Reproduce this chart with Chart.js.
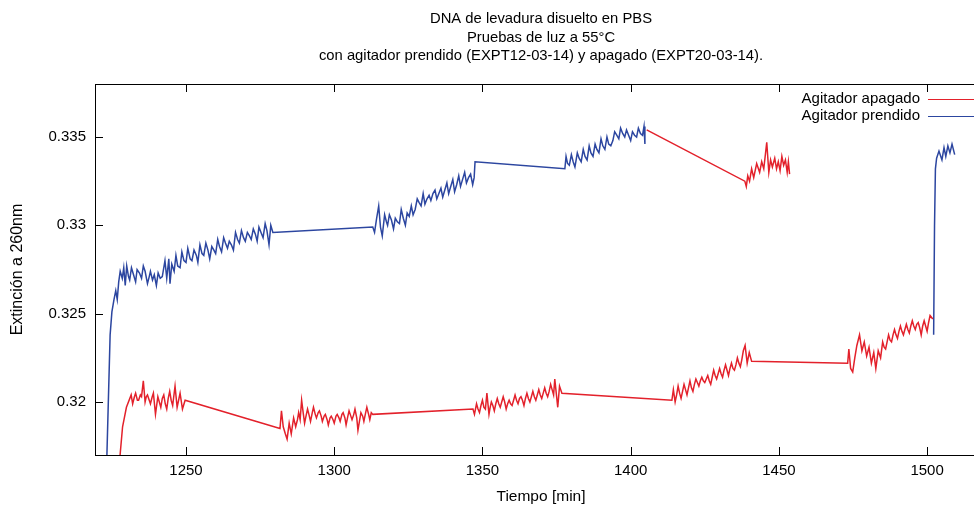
<!DOCTYPE html>
<html>
<head>
<meta charset="utf-8">
<script src="https://cdn.jsdelivr.net/npm/chart.js@4.4.1/dist/chart.umd.min.js"></script>
<style>
  html, body { margin: 0; padding: 0; background: #fff; overflow: hidden; width: 974px; height: 506px; }
</style>
</head>
<body>
<canvas id="chart" width="1000" height="506"></canvas>
<script>
// titles and labels
const titleLines = [
  "DNA de levadura disuelto en PBS",
  "Pruebas de luz a 55°C",
  "con agitador prendido (EXPT12-03-14) y apagado (EXPT20-03-14)."
];
const xTitle = "Tiempo [min]";
const yTitle = "Extinción a 260nm";
const seriesNames = ["Agitador apagado", "Agitador prendido"];

// axis ranges / ticks
const xRange = [1219.3, 1520.2];
const yRange = [0.317, 0.338];
const xTicks = [1250, 1300, 1350, 1400, 1450, 1500];
const yTicks = [0.32, 0.325, 0.33, 0.335];

// Agitador prendido (blue), [tiempo, extincion]
const bluePrendido = [
  [1223.0,0.3150],[1224.4,0.3238],[1225.0,0.3251],[1225.7,0.3258],[1226.3,0.3263],[1226.8,0.3258],
  [1227.3,0.3268],[1227.8,0.3274],[1228.5,0.3270],[1229,0.3276],[1229.5,0.3266],[1230,0.3277],
  [1230.6,0.3271],[1231,0.3269],[1231.6,0.3276],[1232.3,0.3272],[1233,0.3268],[1233.5,0.3275],[1234.3,0.3273],
  [1235,0.3270],[1235.6,0.3277],[1236.2,0.3274],[1237,0.3267],[1237.6,0.3271],[1238,0.3274],[1238.7,0.3269],
  [1239.3,0.3272],[1240,0.3266],[1240.6,0.3273],[1241.3,0.3270],[1242,0.3271],[1242.9,0.3280],[1243.5,0.3270],
  [1244.2,0.3281],[1244.6,0.3267],[1245.2,0.3278],[1246,0.3274],[1246.6,0.3283],[1247.2,0.3277],[1248,0.3276],
  [1248.6,0.3285],[1249.3,0.3280],[1250,0.3279],[1250.6,0.3287],[1251.4,0.3281],[1252,0.3280],[1252.7,0.3286],
  [1253.5,0.3283],[1254,0.3279],[1254.7,0.3289],[1255.4,0.3284],[1256,0.3283],[1256.7,0.3290],[1257.4,0.3286],
  [1258,0.3281],[1258.7,0.3288],[1259.4,0.3286],[1260,0.3284],[1260.7,0.3292],[1261.3,0.3288],[1262,0.3285],
  [1262.7,0.3293],[1263.3,0.3290],[1264,0.3287],[1264.6,0.3291],[1265.3,0.3289],[1266,0.3286],[1266.7,0.3296],
  [1267.4,0.3292],[1268,0.3290],[1268.7,0.3297],[1269.4,0.3293],[1270,0.3291],[1270.7,0.3296],[1271.4,0.3294],
  [1272,0.3292],[1272.7,0.3298],[1273.4,0.3295],[1274,0.3291],[1274.6,0.3299],[1275.3,0.3296],[1276,0.3293],
  [1276.7,0.3301],[1277.3,0.3297],[1278,0.3289],[1278.6,0.3300],[1279.3,0.3296],
  [1313.0,0.3299],[1313.6,0.3296],[1314.3,0.3304],[1315,0.3311],[1315.6,0.3299],[1316.2,0.3294],
  [1317,0.3306],[1317.6,0.3302],[1318,0.3300],[1318.6,0.3306],[1319.3,0.3303],[1320,0.3298],[1320.6,0.3304],
  [1321.3,0.3302],[1322,0.3301],[1322.6,0.3309],[1323.3,0.3304],[1324,0.3300],[1324.6,0.3307],[1325.3,0.3305],
  [1326,0.3311],[1326.6,0.3306],[1327.3,0.3309],[1328,0.3315],[1328.6,0.3313],[1329.3,0.3311],[1330,0.3318],
  [1330.6,0.3312],[1331.3,0.3315],[1332,0.3317],[1332.6,0.3314],[1333.3,0.3318],[1334,0.3320],[1334.6,0.3315],
  [1335.3,0.3318],[1336,0.3321],[1336.6,0.3316],[1337.3,0.3320],[1338,0.3324],[1338.6,0.3318],[1339.3,0.3322],
  [1340,0.3326],[1340.6,0.3319],[1341.3,0.3323],[1342,0.3328],[1342.6,0.3322],[1343.3,0.3326],[1344,0.3330],
  [1344.6,0.3324],[1345.3,0.3327],[1346,0.3329],[1346.7,0.3323],[1347.2,0.3327],[1347.5,0.3336],
  [1377.8,0.3332],[1378.2,0.3339],[1378.7,0.3335],[1379.3,0.3334],[1380,0.3340],[1380.6,0.3336],[1381.2,0.3333],
  [1382,0.3341],[1382.6,0.3338],[1383.3,0.3336],[1384,0.3343],[1384.6,0.3339],[1385.3,0.3337],[1386,0.3345],
  [1386.6,0.3341],[1387.3,0.3339],[1388,0.3346],[1388.6,0.3343],[1389.3,0.3341],[1390,0.3349],[1390.6,0.3345],
  [1391.3,0.3343],[1392,0.3350],[1392.6,0.3346],[1393.3,0.3345],[1394,0.3348],[1394.6,0.3353],[1395.3,0.3351],
  [1396,0.3349],[1396.6,0.3355],[1397.3,0.3352],[1398,0.3350],[1398.6,0.3354],[1399.3,0.3351],[1400,0.3348],
  [1400.6,0.3353],[1401.3,0.3351],[1402,0.3350],[1402.6,0.3355],[1403.3,0.3352],[1404,0.3351],
  [1404.5,0.3356],[1404.8,0.3346]
];
const bluePrendidoFin = [
  [1502.2,0.3238],[1502.5,0.3300],[1502.8,0.3332],[1503.2,0.3338],[1504,0.3342],[1505,0.3337],
  [1505.7,0.3344],[1506.3,0.3339],[1507,0.3345],[1507.7,0.3341],[1508.4,0.3346],[1509.3,0.3340]
];

// Agitador apagado (red)
const redApagado = [
  [1227.5,0.3165],[1228.6,0.3186],[1229.9,0.3197],[1231.5,0.3204],[1232,0.3199],[1232.6,0.3203],[1233,0.3205],
  [1233.6,0.3201],[1234,0.3201],[1234.6,0.3204],[1235,0.3203],[1235.6,0.3212],[1236.2,0.3200],[1236.6,0.3203],
  [1237,0.3204],[1237.6,0.3201],[1238,0.3199],[1238.6,0.3203],[1239,0.3205],[1239.7,0.3193],[1240.5,0.3203],
  [1241,0.3200],[1241.5,0.3197],[1242,0.3202],[1242.5,0.3204],[1243,0.3199],[1243.5,0.3196],[1244,0.3202],
  [1244.5,0.3206],[1245,0.3201],[1245.5,0.3198],[1246.3,0.3209],[1247,0.3197],[1247.5,0.3201],[1248,0.3205],
  [1248.8,0.3196],[1249.7,0.3201],
  [1281.7,0.3185],[1282.2,0.3195],[1282.8,0.3186],[1283.5,0.3182],[1284.1,0.3179],[1284.8,0.3188],
  [1285.5,0.3182],[1286.3,0.3191],[1287,0.3186],[1287.6,0.3190],[1288,0.3194],[1288.5,0.3190],[1289,0.3201],
  [1289.6,0.3193],[1290,0.3188],[1290.6,0.3193],[1291,0.3196],[1291.6,0.3192],[1292,0.3189],[1292.6,0.3194],
  [1293,0.3197],[1293.6,0.3193],[1294,0.3191],[1294.6,0.3194],[1295,0.3195],[1295.6,0.3192],[1296,0.3189],
  [1296.6,0.3192],[1297,0.3193],[1297.6,0.3190],[1298,0.3187],[1298.6,0.3191],[1299,0.3192],[1299.6,0.3190],
  [1300,0.3188],[1300.6,0.3192],[1301,0.3193],[1301.6,0.3191],[1302,0.3189],[1302.6,0.3193],[1303,0.3194],
  [1303.6,0.3191],[1304,0.3187],[1304.6,0.3192],[1305,0.3195],[1305.6,0.3192],[1306,0.3190],[1306.6,0.3193],
  [1307,0.3196],[1307.6,0.3191],[1308,0.3184],[1308.6,0.3190],[1309,0.3194],[1309.6,0.3192],[1310,0.3189],
  [1310.6,0.3194],[1311,0.3197],[1311.6,0.3193],[1312,0.3190],[1312.5,0.3194],[1313.0,0.3193],
  [1346.8,0.3196],[1347.3,0.3193],[1348,0.3199],[1348.5,0.3196],[1349,0.3194],[1349.5,0.3198],[1350,0.3201],
  [1350.5,0.3197],[1351,0.3196],[1351.5,0.3205],[1352.2,0.3193],[1352.6,0.3197],[1353,0.3200],[1353.5,0.3198],
  [1354,0.3195],[1354.5,0.3199],[1355,0.3202],[1355.5,0.3199],[1356,0.3197],[1356.5,0.3200],[1357,0.3203],
  [1357.5,0.3200],[1358,0.3196],[1358.5,0.3199],[1359,0.3201],[1359.5,0.3199],[1360,0.3198],[1360.5,0.3201],
  [1361,0.3204],[1361.5,0.3201],[1362,0.3199],[1362.5,0.3202],[1363,0.3203],[1363.5,0.3201],[1364,0.3198],
  [1364.5,0.3202],[1365,0.3205],[1365.5,0.3202],[1366,0.3200],[1366.5,0.3203],[1367,0.3206],[1367.5,0.3203],
  [1368,0.3201],[1368.5,0.3204],[1369,0.3207],[1369.5,0.3204],[1370,0.3202],[1370.5,0.3205],[1371,0.3208],
  [1371.5,0.3205],[1372,0.3203],[1372.5,0.3206],[1373,0.3210],[1373.5,0.3207],[1374,0.3204],[1374.4,0.3213],
  [1375.4,0.3197],[1376,0.3209],[1376.8,0.3205],
  [1413.9,0.3201],[1414.4,0.3207],[1415,0.3200],[1415.5,0.3204],[1416,0.3209],[1416.5,0.3205],[1417,0.3202],
  [1417.5,0.3206],[1418,0.3210],[1418.5,0.3207],[1419,0.3204],[1419.5,0.3208],[1420,0.3212],[1420.5,0.3208],
  [1421,0.3206],[1421.5,0.3210],[1422,0.3213],[1422.5,0.3211],[1423,0.3209],[1423.5,0.3212],[1424,0.3214],
  [1424.5,0.3212],[1425,0.3211],[1425.5,0.3213],[1426,0.3215],[1426.5,0.3212],[1427,0.3210],[1427.5,0.3214],
  [1428,0.3218],[1428.5,0.3215],[1429,0.3213],[1429.5,0.3216],[1430,0.3219],[1430.5,0.3216],[1431,0.3214],
  [1431.5,0.3218],[1432,0.3221],[1432.5,0.3218],[1433,0.3215],[1433.5,0.3219],[1434,0.3222],[1434.5,0.3219],
  [1435,0.3218],[1435.5,0.3221],[1436,0.3225],[1436.5,0.3222],[1437,0.3220],[1437.5,0.3224],[1438,0.3229],
  [1438.6,0.3232],[1439.3,0.3222],[1440,0.3228],[1440.8,0.3223],
  [1473.2,0.3222],[1473.6,0.3230],[1474.2,0.3219],[1474.9,0.3217],[1475.6,0.3225],[1476.3,0.3232],
  [1477.2,0.3238],[1478,0.3229],[1478.8,0.3234],[1479.6,0.3226],[1480.4,0.3231],[1481.2,0.3222],
  [1482,0.3228],[1482.7,0.3219],[1483.5,0.3229],[1484.3,0.3225],[1485,0.3234],[1485.5,0.3231],[1486,0.3230],
  [1486.5,0.3234],[1487,0.3238],[1487.5,0.3235],[1488,0.3234],[1488.5,0.3238],[1489,0.3241],[1489.5,0.3238],
  [1490,0.3236],[1490.5,0.3240],[1491,0.3243],[1491.5,0.3240],[1492,0.3238],[1492.5,0.3241],[1493,0.3244],
  [1493.5,0.3241],[1494,0.3239],[1494.5,0.3243],[1495,0.3246],[1495.5,0.3243],[1496,0.3241],[1496.5,0.3244],
  [1497,0.3245],[1497.5,0.3242],[1498,0.3238],[1498.5,0.3243],[1499,0.3246],[1499.5,0.3243],[1500,0.3240],
  [1500.5,0.3245],[1501,0.3249],[1501.9,0.3247]
];
const redApagadoAlto = [
  [1405.4,0.3354],[1438.5,0.3325],[1439.0,0.3322],[1439.5,0.3328],[1440.1,0.3325],[1440.8,0.3332],
  [1441.5,0.3327],[1442.5,0.3335],[1443.5,0.3330],[1444.2,0.3336],[1444.9,0.3332],[1445.9,0.3347],
  [1446.6,0.3330],[1447.2,0.3337],[1447.8,0.3333],[1448.6,0.3338],[1449.2,0.3332],[1449.8,0.3336],
  [1450.4,0.3331],[1451,0.3339],[1451.6,0.3334],[1452.2,0.3337],[1452.8,0.3330],[1453.2,0.3336],
  [1453.6,0.3329]
];

const RED = "#e3212b";
const BLUE = "#2c46a0";
const FONT = "'Liberation Sans', Arial, sans-serif";

const toXY = (arr) => arr.map((p) => ({ x: p[0], y: p[1] }));

function lineSet(data, color) {
  return {
    data: toXY(data),
    borderColor: color,
    borderWidth: 1.5,
    pointRadius: 0,
    fill: false,
    tension: 0,
  };
}

// frame, inward ticks, legend and titles like gnuplot
const gnuplotDecor = {
  id: "gnuplotDecor",
  afterDatasetsDraw(chart) {
    const { ctx, chartArea: a, scales } = chart;
    const xs = scales.x, ys = scales.y;
    ctx.save();
    ctx.strokeStyle = "#000";
    ctx.lineWidth = 1;
    ctx.strokeRect(a.left + 0.5, a.top + 0.5, a.right - a.left, a.bottom - a.top);
    ctx.beginPath();
    xs.ticks.forEach((t) => {
      const px = Math.round(xs.getPixelForValue(t.value)) + 0.5;
      ctx.moveTo(px, a.bottom); ctx.lineTo(px, a.bottom - 8);
      ctx.moveTo(px, a.top); ctx.lineTo(px, a.top + 8);
    });
    ys.ticks.forEach((t) => {
      const py = Math.round(ys.getPixelForValue(t.value)) + 0.5;
      ctx.moveTo(a.left, py); ctx.lineTo(a.left + 8, py);
      ctx.moveTo(a.right, py); ctx.lineTo(a.right - 8, py);
    });
    ctx.stroke();

    // legend
    ctx.font = "15px " + FONT;
    ctx.fillStyle = "#000";
    ctx.textAlign = "right";
    ctx.textBaseline = "middle";
    [[seriesNames[0], RED, 99], [seriesNames[1], BLUE, 116]].forEach(([txt, col, ly]) => {
      ctx.fillText(txt, 920, ly);
      ctx.strokeStyle = col;
      ctx.lineWidth = 1.2;
      ctx.beginPath();
      ctx.moveTo(928, ly + 0.5);
      ctx.lineTo(975, ly + 0.5);
      ctx.stroke();
    });

    // titles
    const cx = (a.left + a.right) / 2;
    ctx.textAlign = "center";
    ctx.font = "14.8px " + FONT;
    titleLines.forEach((txt, i) => ctx.fillText(txt, cx, 19 + i * 18.5));
    ctx.font = "15.5px " + FONT;
    ctx.fillText(xTitle, cx, 497);
    ctx.font = "16px " + FONT;
    ctx.translate(18, (a.top + a.bottom) / 2);
    ctx.rotate(-Math.PI / 2);
    ctx.fillText(yTitle, 0, 0);
    ctx.restore();
  },
};

const setTicks = (list) => (s) => { s.ticks = list.map((v) => ({ value: v })); };

new Chart(document.getElementById("chart"), {
  type: "line",
  data: {
    datasets: [
      lineSet(redApagado, RED),
      lineSet(redApagadoAlto, RED),
      lineSet(bluePrendido, BLUE),
      lineSet(bluePrendidoFin, BLUE),
    ],
  },
  options: {
    responsive: false,
    animation: false,
    devicePixelRatio: 1,
    layout: { padding: { left: 0, right: 13, top: 84, bottom: 0 } },
    plugins: {
      legend: { display: false },
      tooltip: { enabled: false },
    },
    scales: {
      x: {
        type: "linear",
        min: xRange[0],
        max: xRange[1],
        grid: { display: false, drawTicks: false },
        border: { display: false },
        afterBuildTicks: setTicks(xTicks),
        ticks: {
          color: "#000",
          padding: 7,
          maxRotation: 0,
          autoSkip: false,
          font: { family: FONT, size: 15 },
          callback: (v) => String(v),
        },
        afterFit: (s) => { s.height = 51; },
      },
      y: {
        min: yRange[0],
        max: yRange[1],
        grid: { display: false, drawTicks: false },
        border: { display: false },
        afterBuildTicks: setTicks(yTicks),
        ticks: {
          color: "#000",
          padding: 9,
          autoSkip: false,
          font: { family: FONT, size: 15 },
          callback: (v) => String(+v.toFixed(4)),
        },
        afterFit: (s) => { s.width = 95; },
      },
    },
  },
  plugins: [gnuplotDecor],
});
</script>
</body>
</html>
